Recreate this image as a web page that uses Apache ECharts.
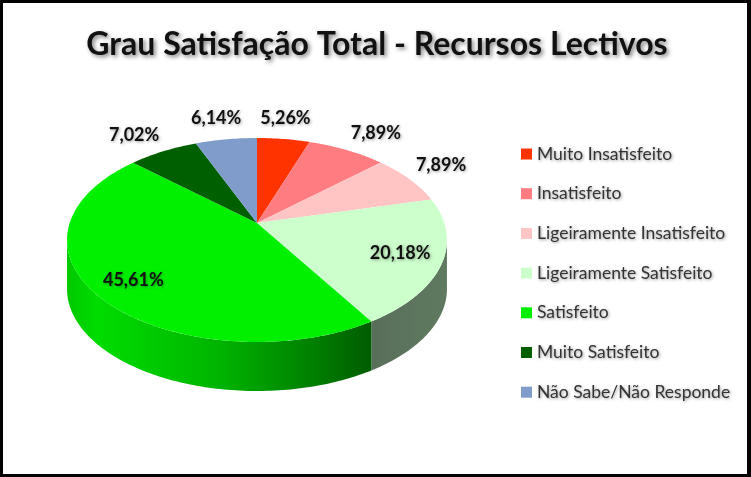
<!DOCTYPE html>
<html><head><meta charset="utf-8">
<style>html,body{margin:0;padding:0;background:#fff}#c{width:751px;height:477px}</style>
<script src="https://cdn.jsdelivr.net/npm/echarts@6/dist/echarts.min.js"></script>
</head><body><div id="c"></div>
<script>
const categories = ['Muito Insatisfeito','Insatisfeito','Ligeiramente Insatisfeito','Ligeiramente Satisfeito','Satisfeito','Muito Satisfeito','Não Sabe/Não Responde'];
const values = [5.26,7.89,7.89,20.18,45.61,7.02,6.14];
const colors = ['#ff3300','#ff7c80','#ffc5c5','#ccffcc','#00f000','#006000','#7f9ccb'];
const sideColors = [null,null,null,
  [[0,'#596e5a'],[1,'#5f7a60']],
  [[0,'#00c800'],[0.1,'#00dc00'],[0.5,'#00b400'],[0.85,'#007800'],[1,'#005c00']],
  null,null];
const labelOffsets = [[2,-21],[29,-17],[31.5,-14],[-42,-10],[38,-13.5],[-29,-16],[-10,-21]];

const CX=257, CY=223, A=187.3, B=99.17, K=1/6, DEPTH=49;
const total = values.reduce((a,b)=>a+b,0);
const project = t => {
  const u=Math.sin(t), v=Math.cos(t), w=1+K*v;
  return [CX+A*u/w, CY-B*v/w];
};
const arc = (a,b) => {
  const n=Math.max(2,Math.ceil((b-a)/(Math.PI/180))), p=[];
  for(let i=0;i<=n;i++) p.push(project(a+(b-a)*i/n));
  return p;
};
const SIL = Math.acos(-K); // silhouette of the projected disc
const makeRender = idx => (params, api) => {
  const before = values.slice(0,idx).reduce((a,b)=>a+b,0);
  const val = api.value(0);
  const a = before/total*2*Math.PI, b = (before+val)/total*2*Math.PI;
  const children = [];
  const s = Math.max(a,SIL), e = Math.min(b,2*Math.PI-SIL);
  if (s<e && sideColors[idx]) {
    const rim = arc(s,e);
    const low = rim.map(p=>[p[0],p[1]+DEPTH]).reverse();
    children.push({type:'polygon',shape:{points:rim.concat(low)},style:{
      fill:new echarts.graphic.LinearGradient(0,0,1,0,sideColors[idx].map(c=>({offset:c[0],color:c[1]})))
    }});
  }
  const top=[[CX,CY]].concat(arc(a,b));
  children.push({type:'polygon',shape:{points:top},style:{fill:colors[idx]},z2:5});
  const mid=project((a+b)/2), off=labelOffsets[idx];
  children.push({type:'text',z2:10,style:{
    text:val.toFixed(2).replace('.',',')+'%',
    x:mid[0]+off[0],y:mid[1]+off[1],align:'center',verticalAlign:'middle',
    font:'bold 18px Lato',fill:'#111',
    textShadowColor:'rgba(0,0,0,0.35)',textShadowBlur:3,textShadowOffsetX:1,textShadowOffsetY:1
  }});
  return {type:'group',children};
};
const chart = echarts.init(document.getElementById('c'),null,{renderer:'canvas'});
chart.setOption({
  animation:false,
  backgroundColor:'#ffffff',
  title:{text:'Grau Satisfação Total - Recursos Lectivos',left:372,top:24,textAlign:'center',
    textStyle:{fontFamily:'Lato',fontWeight:'bold',fontSize:32,color:'#111',
      textShadowColor:'rgba(0,0,0,0.5)',textShadowBlur:4,textShadowOffsetX:2,textShadowOffsetY:2}},
  legend:{orient:'vertical',left:516,top:139,itemWidth:11,itemHeight:11,itemGap:19.7,
    icon:'rect',data:categories,selectedMode:false,
    itemStyle:{borderWidth:0},
    textStyle:{fontFamily:'Lato',fontSize:17.5,color:'#333',lineHeight:20,
      textShadowColor:'rgba(0,0,0,0.4)',textShadowBlur:3,textShadowOffsetX:1,textShadowOffsetY:1}},
  graphic:[{type:'rect',silent:true,z:100,shape:{x:0,y:0,width:750,height:477},
    style:{fill:null,stroke:'#000',lineWidth:6}}],
  series:categories.map((name,i)=>({
    type:'custom',name,coordinateSystem:'none',
    itemStyle:{color:colors[i]},
    renderItem:makeRender(i),
    data:[[values[i]]],silent:true
  }))
});
</script></body></html>
